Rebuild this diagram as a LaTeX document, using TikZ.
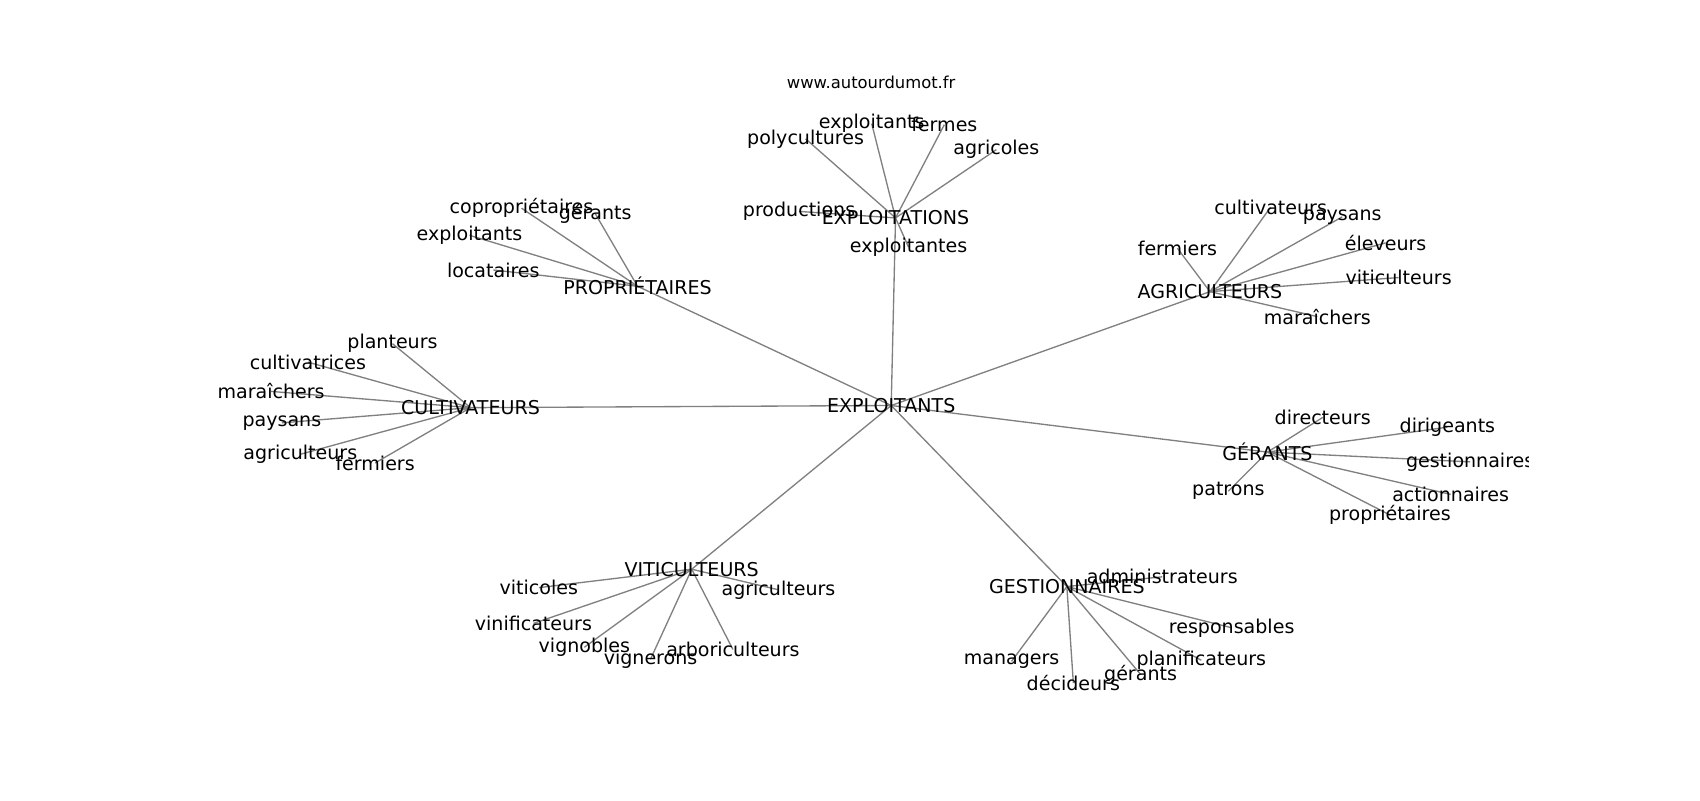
\documentclass[tikz,border=0pt]{standalone}
\usepackage{fontspec}
\setmainfont{DejaVu Sans}
\pgfdeclarelayer{bg}
\pgfsetlayers{bg,main}

\begin{document}
\begin{tikzpicture}[x=0.02cm,y=0.02cm]
		\tikzstyle{every node}+=[inner sep=0pt,font=\fontsize{10}{12}\selectfont]
		\tikzstyle{link}=[color=gray,line width=0.7pt]
		\useasboundingbox (0,0) rectangle (1568,-738);
		\node (title) at (803.5,-76) {\fontsize{8.6}{10}\selectfont www.autourdumot.fr};
		\begin{scope}
		\clip (196,-88.5) rectangle (1410.1,-656);
		\node (expl) at (822,-374) {EXPLOITANTS};
		\node (explt) at (826,-201) {EXPLOITATIONS};
		\node (polycult) at (743,-128) {polycultures};
		\node (exploitA) at (804,-114) {exploitants};
		\node (fermes) at (871,-115) {fermes};
		\node (agricoles) at (919,-138) {agricoles};
		\node (prod) at (737,-195) {productions};
		\node (exploitantes) at (838,-228) {exploitantes};
		\node (proprio) at (588,-264) {PROPRIÉTAIRES};
		\node (copro) at (481,-192) {copropriétaires};
		\node (gerantsP) at (549,-197) {gérants};
		\node (exploitP) at (433,-217) {exploitants};
		\node (locat) at (455,-249) {locataires};
		\node (agri) at (1116,-269) {AGRICULTEURS};
		\node (cultivA) at (1172,-191) {cultivateurs};
		\node (paysansA) at (1238,-200) {paysans};
		\node (fermiersA) at (1086,-229) {fermiers};
		\node (eleveurs) at (1278,-224) {éleveurs};
		\node (viticA) at (1290,-256) {viticulteurs};
		\node (maraichA) at (1215,-292) {maraîchers};
		\node (cultiv) at (434,-376) {CULTIVATEURS};
		\node (planteurs) at (362,-317) {planteurs};
		\node (cultivatrices) at (284,-334) {cultivatrices};
		\node (maraichC) at (250,-361) {maraîchers};
		\node (paysansC) at (260,-390) {paysans};
		\node (agricC) at (277,-419) {agriculteurs};
		\node (fermiersC) at (346,-427) {fermiers};
		\node (gerants) at (1169,-417) {GÉRANTS};
		\node (directeurs) at (1220,-385) {directeurs};
		\node (dirigeants) at (1335,-394) {dirigeants};
		\node (gestionG) at (1356,-426) {gestionnaires};
		\node (patrons) at (1133,-453) {patrons};
		\node (actionnaires) at (1338,-456) {actionnaires};
		\node (proprioG) at (1282,-475) {propriétaires};
		\node (gestion) at (984,-541) {GESTIONNAIRES};
		\node (admin) at (1072,-532) {administrateurs};
		\node (respons) at (1136,-579) {responsables};
		\node (managers) at (933,-610) {managers};
		\node (decideurs) at (990,-630) {décideurs};
		\node (gerantsG) at (1052,-622) {gérants};
		\node (planif) at (1108,-609) {planificateurs};
		\node (viti) at (638,-525) {VITICULTEURS};
		\node (viticoles) at (497,-542) {viticoles};
		\node (agricV) at (718,-544) {agriculteurs};
		\node (vinif) at (492,-575) {vinificateurs};
		\node (vignobles) at (539,-597) {vignobles};
		\node (vignerons) at (600,-608) {vignerons};
		\node (arbori) at (676,-599) {arboriculteurs};
		\end{scope}
		\begin{pgfonlayer}{bg}
		\draw [link] (expl.center) -- (explt.center);
		\draw [link] (expl.center) -- (proprio.center);
		\draw [link] (expl.center) -- (agri.center);
		\draw [link] (expl.center) -- (cultiv.center);
		\draw [link] (expl.center) -- (gerants.center);
		\draw [link] (expl.center) -- (gestion.center);
		\draw [link] (expl.center) -- (viti.center);
		\draw [link] (explt.center) -- (polycult.center);
		\draw [link] (explt.center) -- (exploitA.center);
		\draw [link] (explt.center) -- (fermes.center);
		\draw [link] (explt.center) -- (agricoles.center);
		\draw [link] (explt.center) -- (prod.center);
		\draw [link] (explt.center) -- (exploitantes.center);
		\draw [link] (proprio.center) -- (copro.center);
		\draw [link] (proprio.center) -- (gerantsP.center);
		\draw [link] (proprio.center) -- (exploitP.center);
		\draw [link] (proprio.center) -- (locat.center);
		\draw [link] (agri.center) -- (cultivA.center);
		\draw [link] (agri.center) -- (paysansA.center);
		\draw [link] (agri.center) -- (fermiersA.center);
		\draw [link] (agri.center) -- (eleveurs.center);
		\draw [link] (agri.center) -- (viticA.center);
		\draw [link] (agri.center) -- (maraichA.center);
		\draw [link] (cultiv.center) -- (planteurs.center);
		\draw [link] (cultiv.center) -- (cultivatrices.center);
		\draw [link] (cultiv.center) -- (maraichC.center);
		\draw [link] (cultiv.center) -- (paysansC.center);
		\draw [link] (cultiv.center) -- (agricC.center);
		\draw [link] (cultiv.center) -- (fermiersC.center);
		\draw [link] (gerants.center) -- (directeurs.center);
		\draw [link] (gerants.center) -- (dirigeants.center);
		\draw [link] (gerants.center) -- (gestionG.center);
		\draw [link] (gerants.center) -- (patrons.center);
		\draw [link] (gerants.center) -- (actionnaires.center);
		\draw [link] (gerants.center) -- (proprioG.center);
		\draw [link] (gestion.center) -- (admin.center);
		\draw [link] (gestion.center) -- (respons.center);
		\draw [link] (gestion.center) -- (managers.center);
		\draw [link] (gestion.center) -- (decideurs.center);
		\draw [link] (gestion.center) -- (gerantsG.center);
		\draw [link] (gestion.center) -- (planif.center);
		\draw [link] (viti.center) -- (viticoles.center);
		\draw [link] (viti.center) -- (agricV.center);
		\draw [link] (viti.center) -- (vinif.center);
		\draw [link] (viti.center) -- (vignobles.center);
		\draw [link] (viti.center) -- (vignerons.center);
		\draw [link] (viti.center) -- (arbori.center);
		\end{pgfonlayer}
		\end{tikzpicture}
\end{document}
